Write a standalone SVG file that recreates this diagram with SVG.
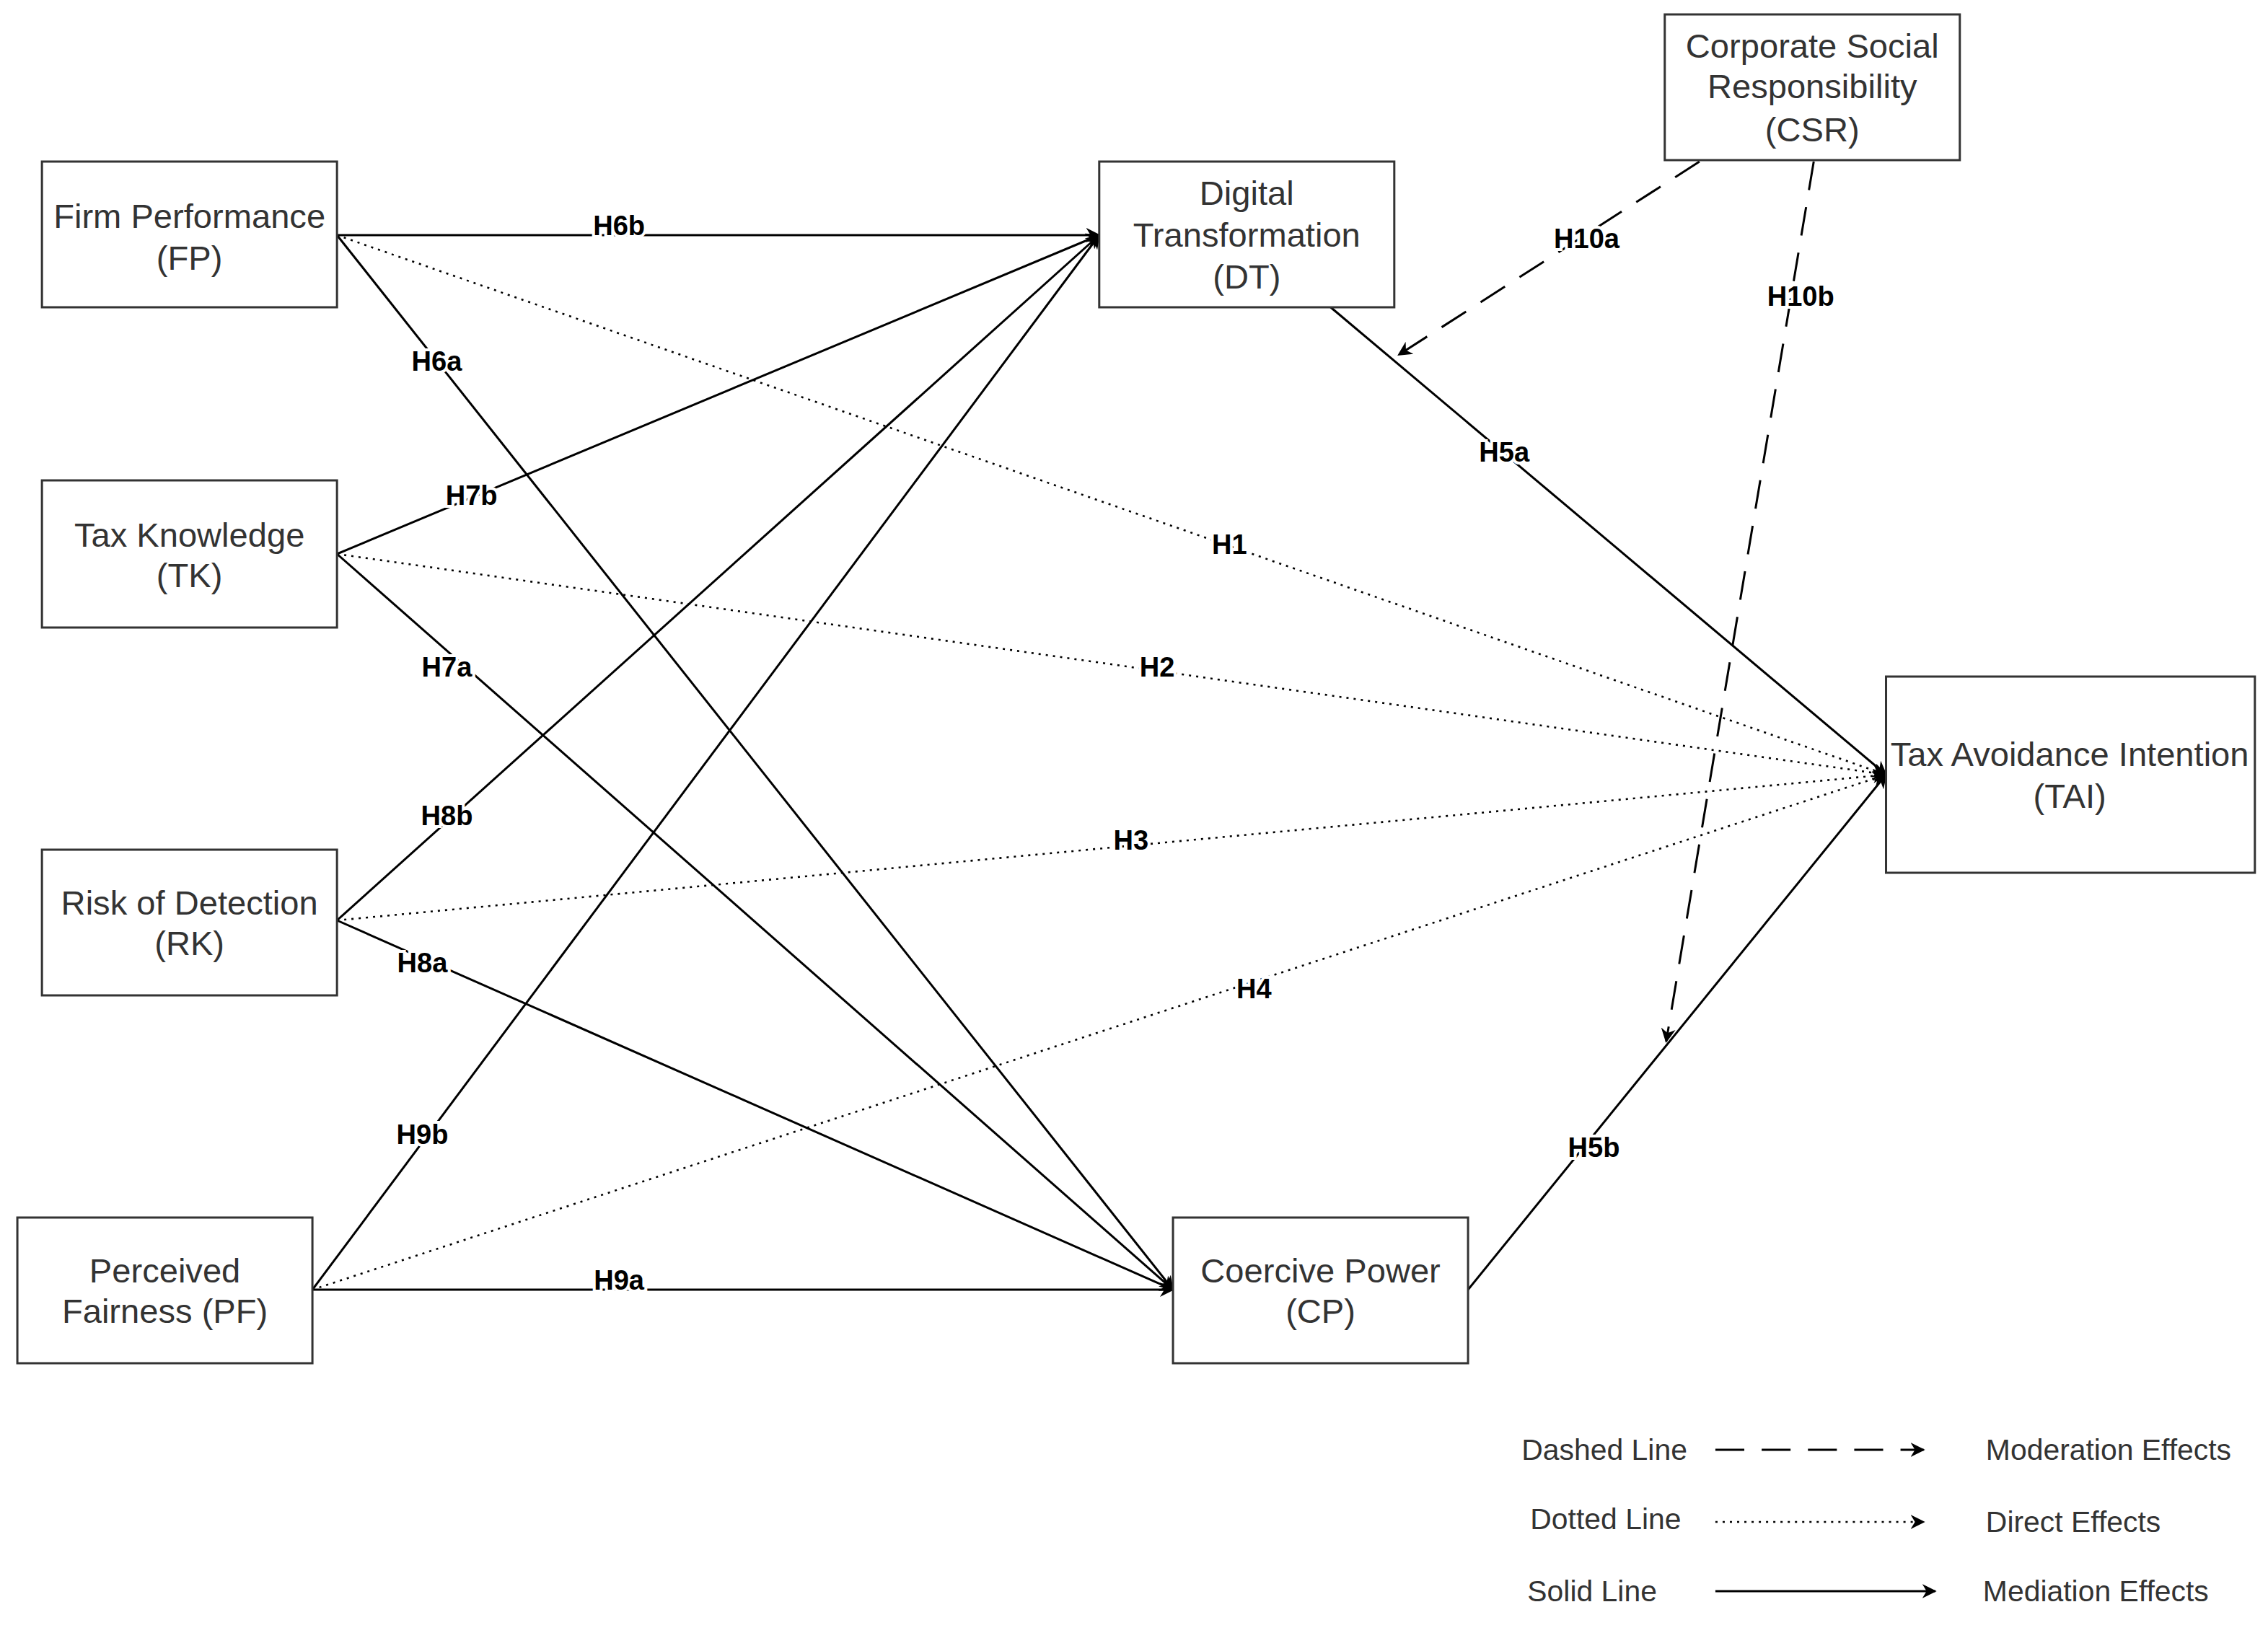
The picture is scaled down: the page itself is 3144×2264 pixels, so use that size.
<svg xmlns="http://www.w3.org/2000/svg" width="3144" height="2264" viewBox="0 0 3144 2264">
<style>
.box{fill:#fff;stroke:#333;stroke-width:1.5}
.t{font-family:"Liberation Sans",Arial,sans-serif;font-size:23.5px;fill:#333;text-anchor:middle}
.lb{font-family:"Liberation Sans",Arial,sans-serif;font-size:19px;font-weight:bold;fill:#000;text-anchor:middle;stroke:#fff;stroke-width:4;paint-order:stroke}
.lg{font-family:"Liberation Sans",Arial,sans-serif;font-size:20.4px;fill:#333}
.s{fill:none;stroke:#000;stroke-width:1.5;marker-end:url(#a)}
.d{fill:none;stroke:#000;stroke-width:1.3;stroke-dasharray:1.5 3.5;marker-end:url(#a)}
.m{fill:none;stroke:#000;stroke-width:1.5;stroke-dasharray:20 12;marker-end:url(#a)}
</style>
<defs><marker id="a" viewBox="0 0 10 10" refX="9" refY="5" markerWidth="10" markerHeight="10" markerUnits="userSpaceOnUse" orient="auto"><path d="M0,0 L10,5 L0,10 L3,5 z" fill="#000"/></marker></defs>
<rect width="3144" height="2264" fill="#fff"/>
<g transform="scale(2.005,2)">
<g id="connectors">
<line class="s" x1="233" y1="163" x2="760" y2="163"/>
<line class="s" x1="233" y1="163" x2="811" y2="894"/>
<line class="d" x1="233" y1="163" x2="1304" y2="537"/>
<line class="s" x1="233" y1="384" x2="760" y2="163"/>
<line class="s" x1="233" y1="384" x2="811" y2="894"/>
<line class="d" x1="233" y1="384" x2="1304" y2="537"/>
<line class="s" x1="233" y1="638" x2="760" y2="163"/>
<line class="s" x1="233" y1="638" x2="811" y2="894"/>
<line class="d" x1="233" y1="638" x2="1304" y2="537"/>
<line class="s" x1="216" y1="894" x2="760" y2="163"/>
<line class="s" x1="216" y1="894" x2="811" y2="894"/>
<line class="d" x1="216" y1="894" x2="1304" y2="537"/>
<line class="s" x1="920" y1="213" x2="1304" y2="537"/>
<line class="s" x1="1015" y1="894" x2="1304" y2="537"/>
<line class="m" x1="1175" y1="112" x2="967" y2="246"/>
<line class="m" x1="1254" y1="112" x2="1152" y2="722"/>
<text class="lb" x="428" y="163">H6b</text>
<text class="lb" x="302" y="257">H6a</text>
<text class="lb" x="850" y="384">H1</text>
<text class="lb" x="326" y="350">H7b</text>
<text class="lb" x="309" y="469">H7a</text>
<text class="lb" x="800" y="469">H2</text>
<text class="lb" x="309" y="572">H8b</text>
<text class="lb" x="292" y="674">H8a</text>
<text class="lb" x="782" y="589">H3</text>
<text class="lb" x="292" y="793">H9b</text>
<text class="lb" x="428" y="894">H9a</text>
<text class="lb" x="867" y="692">H4</text>
<text class="lb" x="1040" y="320">H5a</text>
<text class="lb" x="1102" y="802">H5b</text>
<text class="lb" x="1097" y="172">H10a</text>
<text class="lb" x="1245" y="212">H10b</text>
</g>
<g id="FP"><rect class="box" x="29" y="112" width="204" height="101"/><text class="t" x="131" y="158">Firm Performance</text><text class="t" x="131" y="187">(FP)</text></g>
<g id="TK"><rect class="box" x="29" y="333" width="204" height="102"/><text class="t" x="131" y="379">Tax Knowledge</text><text class="t" x="131" y="407">(TK)</text></g>
<g id="RK"><rect class="box" x="29" y="589" width="204" height="101"/><text class="t" x="131" y="634">Risk of Detection</text><text class="t" x="131" y="662">(RK)</text></g>
<g id="PF"><rect class="box" x="12" y="844" width="204" height="101"/><text class="t" x="114" y="889">Perceived</text><text class="t" x="114" y="917">Fairness (PF)</text></g>
<g id="DT"><rect class="box" x="760" y="112" width="204" height="101"/><text class="t" x="862" y="142">Digital</text><text class="t" x="862" y="171">Transformation</text><text class="t" x="862" y="200">(DT)</text></g>
<g id="CP"><rect class="box" x="811" y="844" width="204" height="101"/><text class="t" x="913" y="889">Coercive Power</text><text class="t" x="913" y="917">(CP)</text></g>
<g id="CSR"><rect class="box" x="1151" y="10" width="204" height="101"/><text class="t" x="1253" y="40">Corporate Social</text><text class="t" x="1253" y="68">Responsibility</text><text class="t" x="1253" y="98">(CSR)</text></g>
<g id="TAI"><rect class="box" x="1304" y="469" width="255" height="136"/><text class="t" x="1431" y="531">Tax Avoidance Intention</text><text class="t" x="1431" y="560">(TAI)</text></g>
<g id="legend">
<text class="lg" x="1052" y="1012">Dashed Line</text>
<line class="m" x1="1186" y1="1005" x2="1330" y2="1005"/>
<text class="lg" x="1373" y="1012">Moderation Effects</text>
<text class="lg" x="1058" y="1060">Dotted Line</text>
<line class="d" x1="1186" y1="1055" x2="1330" y2="1055"/>
<text class="lg" x="1373" y="1062">Direct Effects</text>
<text class="lg" x="1056" y="1110">Solid Line</text>
<line class="s" x1="1186" y1="1103" x2="1338" y2="1103"/>
<text class="lg" x="1371" y="1110">Mediation Effects</text>
</g>
</g>
</svg>
